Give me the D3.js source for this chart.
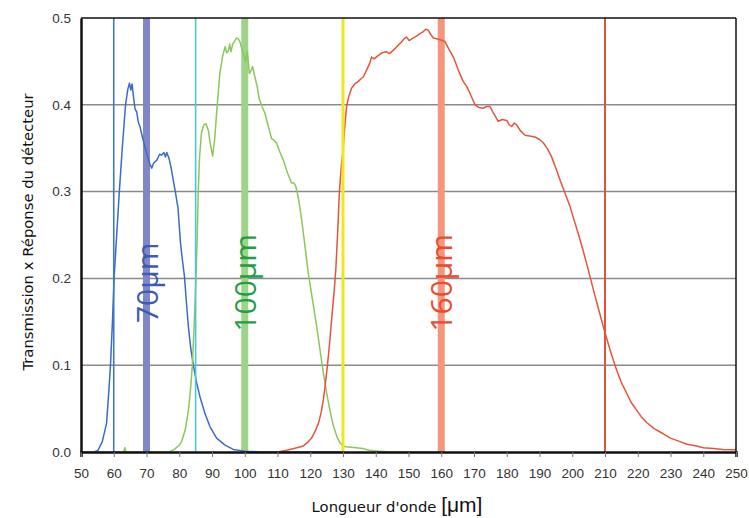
<!DOCTYPE html>
<html>
<head>
<meta charset="utf-8">
<script src="https://cdn.jsdelivr.net/npm/d3@7"></script>
<style>
  html, body { margin: 0; padding: 0; background: #fff; }
  svg { display: block; }
</style>
</head>
<body>
<svg id="chart" width="749" height="518"></svg>
<script>
// ---------- DATA ----------
const xTicks = [50,60,70,80,90,100,110,120,130,140,150,160,170,180,190,200,210,220,230,240,250];
const yTicks = [0.0, 0.1, 0.2, 0.3, 0.4, 0.5];
const yTickLabels = ["0.0","0.1","0.2","0.3","0.4","0.5"];

// 70 µm band (blue)
const blueLambda = [50,54,55.2,56.5,57.8,58.5,59,59.6,60.1,60.9,61.7,62.6,63.6,64.3,64.8,65.2,65.6,66,66.5,67,67.5,68,68.8,69.5,70.5,71,71.6,72.2,73.1,74,74.6,75.3,75.8,76.2,76.9,77.5,78,78.8,79.4,79.6,80.4,81,81.6,82.2,82.8,83.5,84.3,85.3,86.3,87.8,89.4,91.4,94,96.5,100,105,130];
const blueValue  = [0,0,0.002,0.012,0.033,0.07,0.1,0.15,0.2,0.25,0.3,0.35,0.4,0.418,0.425,0.417,0.424,0.41,0.395,0.392,0.38,0.375,0.362,0.352,0.338,0.332,0.327,0.333,0.336,0.343,0.342,0.345,0.34,0.345,0.338,0.328,0.317,0.3,0.286,0.282,0.24,0.22,0.202,0.172,0.144,0.12,0.1,0.08,0.064,0.045,0.029,0.016,0.008,0.003,0.001,0,0];

// 100 µm band (green)
const greenLambda = [50,63,63.4,63.7,77,78.5,80,80.7,81.8,82.8,83.5,84,84.6,85.1,85.5,85.8,86.2,86.8,87.5,88.2,88.9,89.5,90.2,90.8,91.4,92.4,93.2,94,94.5,95,95.4,95.8,96.3,97,97.5,98,98.5,99,99.6,100.2,100.8,101.4,102,102.4,103.1,103.8,104.4,105.3,106.2,107.2,108.2,109,109.7,110.7,111.8,113,114.3,115,115.6,116.5,117.4,118.4,119.4,120.7,122,123,124,125,126,127,128.1,129,130,131,134,136,138,141,145,160];
const greenValue  = [0,0,0.005,0,0,0.003,0.008,0.012,0.025,0.048,0.075,0.1,0.15,0.2,0.25,0.3,0.34,0.368,0.377,0.378,0.37,0.355,0.341,0.36,0.39,0.436,0.455,0.467,0.46,0.462,0.47,0.461,0.47,0.474,0.477,0.476,0.473,0.466,0.459,0.45,0.461,0.436,0.44,0.444,0.432,0.421,0.407,0.398,0.39,0.375,0.361,0.359,0.356,0.346,0.336,0.322,0.31,0.31,0.306,0.29,0.267,0.237,0.206,0.175,0.144,0.117,0.091,0.068,0.048,0.031,0.018,0.011,0.007,0.006,0.005,0.004,0.002,0.001,0,0];

// 160 µm band (red)
const redLambda = [110,112.8,115,117.9,119.2,120.4,121.5,122.5,123.3,124,124.6,125.2,125.9,126.6,127.3,127.8,128.4,128.9,129.5,130.1,130.6,131.1,131.8,132.6,133.6,134.7,135.5,136.2,137.2,138.2,138.7,139.5,140.8,142,143.3,144.2,145.4,146.2,146.9,147.8,148.6,149.4,150.2,151.5,152.4,153.5,154.4,155.3,156,156.8,157.6,158.6,159.6,160.4,161.1,162.2,163.7,165.2,166.7,167.8,168.8,170.3,171.5,172.8,173.8,174.9,176,177.4,178.6,180,180.8,181.5,182.3,183,184.2,185.6,187,188.6,190,191.2,192.5,193.7,195,196.3,197.8,199.3,200.5,201.8,203.1,204.4,205.7,207,208.3,209.5,210.5,212,213.6,215,216.6,218,219.7,221,222.7,225,227.8,230,232.9,235,238,240,243.1,246,250];
const redValue  = [0,0.002,0.004,0.007,0.011,0.016,0.024,0.033,0.045,0.06,0.078,0.098,0.125,0.156,0.185,0.21,0.255,0.3,0.33,0.352,0.378,0.398,0.41,0.419,0.424,0.427,0.43,0.432,0.44,0.448,0.455,0.453,0.457,0.46,0.461,0.459,0.463,0.466,0.469,0.472,0.476,0.478,0.474,0.477,0.479,0.482,0.484,0.487,0.486,0.481,0.477,0.476,0.475,0.474,0.473,0.465,0.455,0.44,0.427,0.421,0.413,0.4,0.397,0.396,0.398,0.398,0.39,0.381,0.383,0.382,0.377,0.375,0.379,0.377,0.37,0.365,0.364,0.363,0.36,0.356,0.349,0.34,0.327,0.313,0.298,0.283,0.268,0.252,0.235,0.217,0.198,0.179,0.161,0.144,0.131,0.112,0.094,0.08,0.068,0.057,0.048,0.041,0.034,0.027,0.021,0.016,0.012,0.009,0.007,0.005,0.004,0.003,0.0025];

// Reference marker lines (wavelengths)
const bandCenters = [70, 100, 160];
const bandLabels  = ["70μm", "100μm", "160μm"];
const edgeLines   = [60, 85, 130, 210];

// ---------- LAYOUT ----------
const svg = d3.select("#chart");
const L = 81, R = 736, T = 18, B = 452;
const x = d3.scaleLinear().domain([50, 250]).range([L, R]);
const y = d3.scaleLinear().domain([0, 0.5]).range([B, T]);

const bandColors   = ["#7f87c7", "#9dd488", "#f3967d"];
const labelColors  = ["#3b5cb2", "#1f9e44", "#ea4a2f"];
const edgeColors   = ["#3f78c4", "#52c4da", "#f0e81c", "#e0533c"];
const edgeWidths   = [1.6, 1.6, 3, 2];
const curveColors  = ["#3d6bc4", "#8bc75b", "#e5553a"];

// Gridlines
svg.append("g")
  .selectAll("line")
  .data(yTicks.filter(v => v > 0 && v < 0.5))
  .join("line")
  .attr("x1", L).attr("x2", R)
  .attr("y1", d => y(d)).attr("y2", d => y(d))
  .attr("stroke", "#8a8a8a").attr("stroke-width", 1.5);

// Thick band bars
svg.append("g")
  .selectAll("line")
  .data(bandCenters)
  .join("line")
  .attr("x1", d => x(d)).attr("x2", d => x(d))
  .attr("y1", y(0.5)).attr("y2", y(0))
  .attr("stroke", (d, i) => bandColors[i]).attr("stroke-width", 7);

// Curves
const series = [
  blueLambda.map((l, i) => [l, blueValue[i]]),
  greenLambda.map((l, i) => [l, greenValue[i]]),
  redLambda.map((l, i) => [l, redValue[i]])
];
const line = d3.line().x(d => x(d[0])).y(d => y(d[1])).curve(d3.curveLinear);
svg.append("g")
  .selectAll("path")
  .data(series)
  .join("path")
  .attr("d", line)
  .attr("fill", "none")
  .attr("stroke", (d, i) => curveColors[i])
  .attr("stroke-width", 1.5)
  .attr("stroke-linejoin", "round");

// Thin edge lines
svg.append("g")
  .selectAll("line")
  .data(edgeLines)
  .join("line")
  .attr("x1", d => x(d)).attr("x2", d => x(d))
  .attr("y1", y(0.5)).attr("y2", y(0))
  .attr("stroke", (d, i) => edgeColors[i]).attr("stroke-width", (d, i) => edgeWidths[i]);

// Frame
svg.append("line").attr("x1", L).attr("x2", R).attr("y1", T).attr("y2", T).attr("stroke", "#111").attr("stroke-width", 1.5);
svg.append("line").attr("x1", R).attr("x2", R).attr("y1", T).attr("y2", B).attr("stroke", "#111").attr("stroke-width", 1.5);

// X axis
const xAxis = svg.append("g")
  .attr("transform", `translate(0,${B})`)
  .call(d3.axisBottom(x).tickValues(xTicks).tickSize(5).tickPadding(11).tickFormat(d3.format("d")));
xAxis.select(".domain").attr("stroke", "#111").attr("stroke-width", 2.5);
xAxis.selectAll(".tick line").attr("stroke", "#777").attr("stroke-width", 1);
xAxis.selectAll("text").attr("font-family", "Liberation Sans, Arial, sans-serif").attr("font-size", 13.5).attr("fill", "#333");

// Y axis
const yAxis = svg.append("g")
  .attr("transform", `translate(${L},0)`)
  .call(d3.axisLeft(y).tickValues(yTicks).tickSize(0).tickPadding(10).tickFormat((d, i) => yTickLabels[i]));
yAxis.select(".domain").attr("stroke", "#111").attr("stroke-width", 2.5);
yAxis.selectAll("text").attr("font-family", "Liberation Sans, Arial, sans-serif").attr("font-size", 13.5).attr("fill", "#333");

// Band labels (rotated)
svg.append("g")
  .selectAll("text")
  .data(bandCenters)
  .join("text")
  .attr("transform", d => `translate(${x(d) + 11},${y(0.195)}) rotate(-90)`)
  .attr("text-anchor", "middle")
  .attr("font-family", "Open Sans, Noto Sans, sans-serif")
  .attr("font-size", 30)
  .attr("fill", (d, i) => labelColors[i])
  .text((d, i) => bandLabels[i]);

// Axis titles
svg.append("text")
  .attr("transform", `translate(33,232) rotate(-90)`)
  .attr("text-anchor", "middle")
  .attr("font-family", "DejaVu Sans, Verdana, sans-serif")
  .attr("font-size", 14.8)
  .attr("fill", "#111")
  .text("Transmission x Réponse du détecteur");

const xt = svg.append("text")
  .attr("x", 397).attr("y", 512)
  .attr("text-anchor", "middle")
  .attr("font-family", "DejaVu Sans, Verdana, sans-serif")
  .attr("font-size", 14.8)
  .attr("fill", "#111");
xt.append("tspan").text("Longueur d'onde ");
xt.append("tspan").attr("font-size", 21).attr("font-family", "Liberation Sans, Arial, sans-serif").text("[μm]");
</script>
</body>
</html>
